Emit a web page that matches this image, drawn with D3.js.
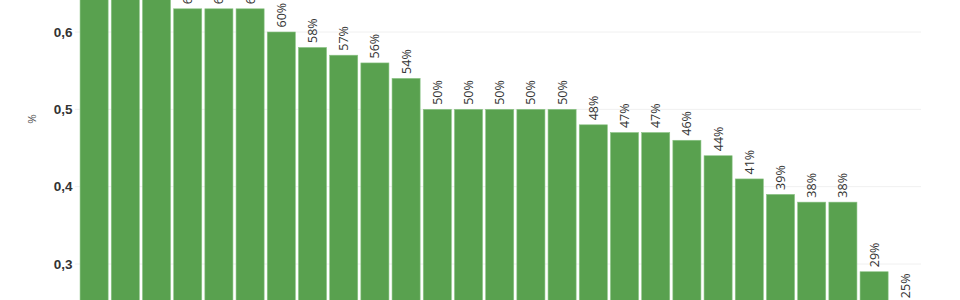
<!DOCTYPE html>
<html>
<head>
<meta charset="utf-8">
<script src="https://cdn.jsdelivr.net/npm/d3@7"></script>
<style>
  body { margin: 0; background: #fff; }
  svg { display: block; font-family: "Open Sans", sans-serif; }
</style>
</head>
<body>
<svg id="chart" width="960" height="300"></svg>
<script>
(() => {

// data (bars sorted descending, first three run past the top of the frame)
const categories = d3.range(1, 28).map(i => 'C' + i);
const values = [0.72, 0.68, 0.66, 0.63, 0.63, 0.63, 0.60, 0.58, 0.57, 0.56, 0.54,
                0.50, 0.50, 0.50, 0.50, 0.50, 0.48, 0.47, 0.47, 0.46, 0.44, 0.41,
                0.39, 0.38, 0.38, 0.29, 0.25];
const y_ticks = [0.3, 0.4, 0.5, 0.6, 0.7];
const y_title = '%';

const bar_color = '#59a14f';

let svg = d3.select('#chart');
let data = categories.map((c, i) => ({cat: c, value: values[i]}));

// scales
let x_scale = d3.scaleBand()
    .domain(categories)
    .range([78.5, 920.9])
    .paddingInner(0.1)
    .paddingOuter(0.05);

let y_scale = d3.scaleLinear()
    .domain([0, 0.6])
    .range([496, 32]);

// gridlines
svg.append('g')
    .selectAll('line')
    .data(y_ticks)
    .enter()
        .append('line')
        .attr('x1', 75)
        .attr('x2', 921)
        .attr('y1', d => y_scale(d))
        .attr('y2', d => y_scale(d))
        .attr('stroke', '#f0f0f0')
        .attr('stroke-width', 1);

// y axis
let y_axis = d3.axisLeft(y_scale)
    .tickValues(y_ticks)
    .tickSize(0)
    .tickPadding(0)
    .tickFormat(d => d3.format('.1f')(d).replace('.', ','));
let y_g = svg.append('g')
    .attr('transform', 'translate(72.5, 0)')
    .call(y_axis);
y_g.select('.domain').remove();
y_g.selectAll('text')
    .style('font-size', '13.5px')
    .style('font-weight', 600)
    .style('fill', '#333');

svg.append('text')
    .attr('transform', 'translate(36, 119) rotate(-90)')
    .attr('text-anchor', 'middle')
    .style('font-size', '11.5px')
    .style('fill', '#555')
    .text(y_title);

// bars
svg.append('g')
    .selectAll('rect')
    .data(data)
    .enter()
        .append('rect')
        .attr('x', d => x_scale(d.cat))
        .attr('y', d => y_scale(d.value))
        .attr('width', x_scale.bandwidth())
        .attr('height', d => y_scale(0) - y_scale(d.value))
        .attr('fill', bar_color)
        .attr('stroke', '#8cc486')
        .attr('stroke-width', 0.6);

// value labels
svg.append('g')
    .selectAll('text')
    .data(data)
    .enter()
        .append('text')
        .attr('transform', d => `translate(${x_scale(d.cat) + x_scale.bandwidth() / 2 + 4.5}, ${y_scale(d.value) - 4.5}) rotate(-90)`)
        .attr('text-anchor', 'start')
        .style('font-size', '12.5px')
        .style('fill', '#333')
        .text(d => Math.round(d.value * 100) + '%');

})();
</script>
</body>
</html>
